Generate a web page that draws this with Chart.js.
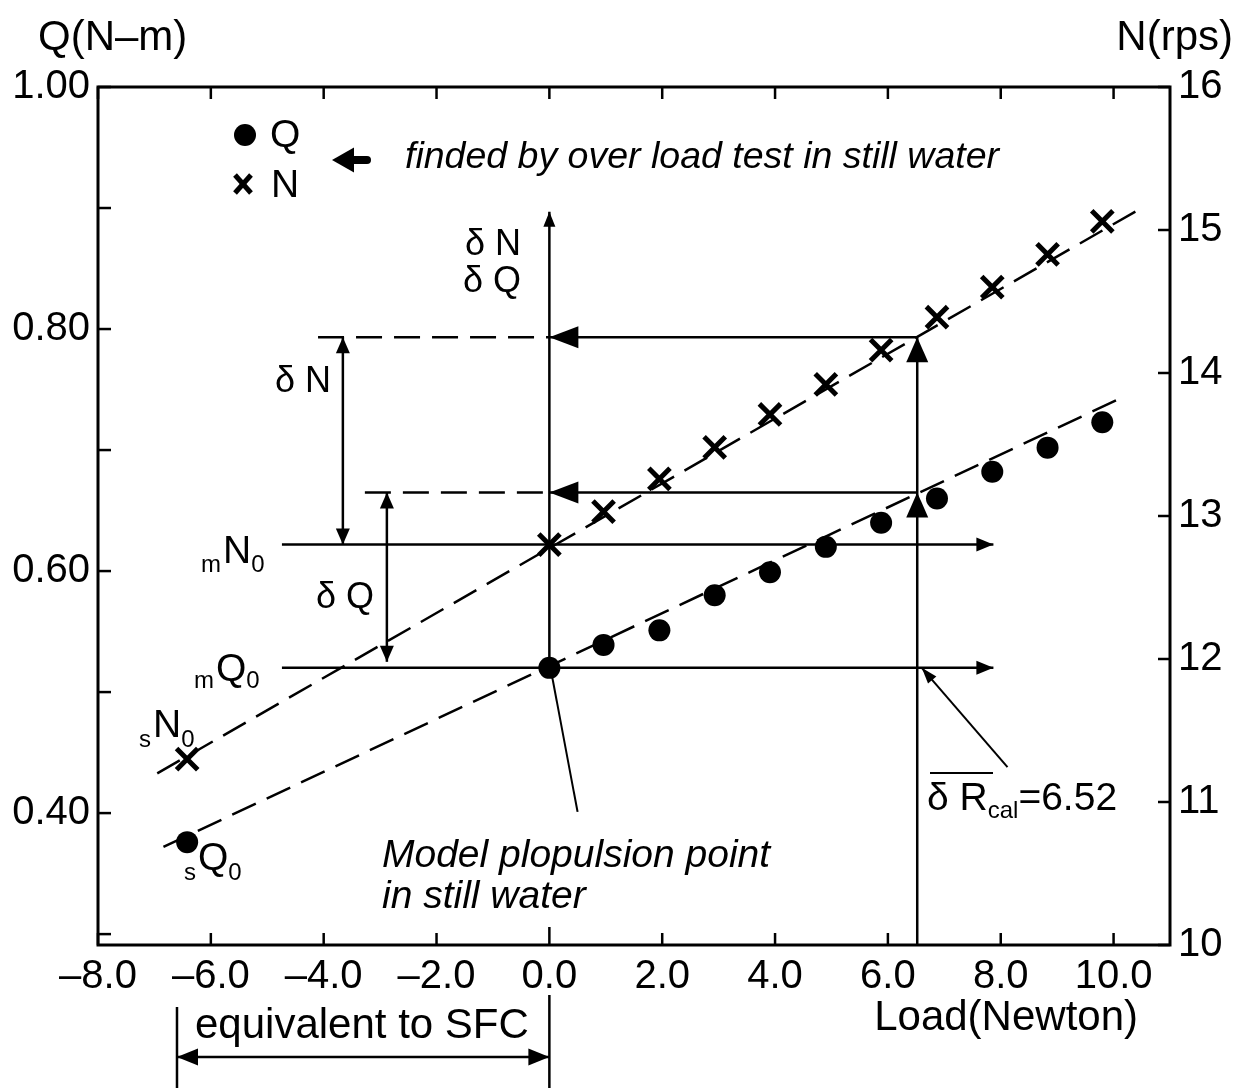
<!DOCTYPE html>
<html>
<head>
<meta charset="utf-8">
<script src="https://cdn.jsdelivr.net/npm/chart.js@4.4.0/dist/chart.umd.min.js"></script>
<style>
  html, body { margin: 0; padding: 0; background: #fff; }
  #wrap { width: 1237px; height: 1088px; position: relative; }
</style>
</head>
<body>
<div id="wrap"><canvas id="chart"></canvas></div>
<script>
'use strict';

// over load test in still water
var loads = [0, 0.96, 1.95, 2.93, 3.91, 4.9, 5.88, 6.87, 7.85, 8.83, 9.8];
var torqueQ = [0.52, 0.539, 0.551, 0.58, 0.599, 0.62, 0.64, 0.66, 0.682, 0.702, 0.723];
var revsN = [12.8, 13.03, 13.26, 13.48, 13.71, 13.92, 14.16, 14.39, 14.6, 14.83, 15.06];

// ship point sQ0 / sN0
var shipLoad = [-6.42];
var shipQ = [0.376];
var shipN = [11.3];

// dashed fit lines (end points only)
var fitLoadQ = [-6.84, 10.18];
var fitQ = [0.372, 0.744];
var fitLoadN = [-6.95, 10.48];
var fitN = [11.2, 15.15];

var xTicks = [-8, -6, -4, -2, 0, 2, 4, 6, 8, 10];
var qTicks = [0.3, 0.4, 0.5, 0.6, 0.7, 0.8, 0.9, 1.0];
var qLabelled = [0.4, 0.6, 0.8, 1.0];
var nTicks = [10, 11, 12, 13, 14, 15, 16];

// construction values
var dRcal = 6.52;
var sfcLoad = -6.6;
var mQ0 = 0.52, mN0 = 12.8;
var qAtLoad = 0.665, nAtLoad = 14.25;

var FAM = '"Liberation Sans", Arial, sans-serif';
var BIG = '39px ' + FAM;
var TITLE = '42px ' + FAM;
var MID = '36px ' + FAM;
var SMALL = '24px ' + FAM;

function pts(xs, ys) {
    return xs.map(function (x, i) { return {x: x, y: ys[i]}; });
}

function line(ctx, x1, y1, x2, y2, dash) {
    ctx.setLineDash(dash || []);
    ctx.beginPath();
    ctx.moveTo(x1, y1);
    ctx.lineTo(x2, y2);
    ctx.stroke();
    ctx.setLineDash([]);
}

// filled head with tip at (x2, y2)
function head(ctx, x1, y1, x2, y2, len, w) {
    var a = Math.atan2(y2 - y1, x2 - x1);
    var bx = x2 - len * Math.cos(a), by = y2 - len * Math.sin(a);
    ctx.beginPath();
    ctx.moveTo(x2, y2);
    ctx.lineTo(bx + w / 2 * Math.sin(a), by - w / 2 * Math.cos(a));
    ctx.lineTo(bx - w / 2 * Math.sin(a), by + w / 2 * Math.cos(a));
    ctx.closePath();
    ctx.fill();
}

function arrow(ctx, x1, y1, x2, y2, len, w, both) {
    line(ctx, x1, y1, x2, y2);
    head(ctx, x1, y1, x2, y2, len, w);
    if (both) { head(ctx, x2, y2, x1, y1, len, w); }
}

// pre-subscript, letter, post-subscript
function sublabel(ctx, x, y, pre, main, post, drop) {
    ctx.textAlign = 'left';
    ctx.font = SMALL;
    ctx.fillText(pre, x, y + drop);
    x += ctx.measureText(pre).width + 2;
    ctx.font = BIG;
    ctx.fillText(main, x, y);
    x += ctx.measureText(main).width;
    ctx.font = SMALL;
    ctx.fillText(post, x, y + drop);
}

function fmtLoad(v) {
    return (v < 0 ? '\u2013' : '') + Math.abs(v).toFixed(1);
}

var overlay = {
    id: 'overlay',
    afterDatasetsDraw: function (chart) {
        var ctx = chart.ctx, a = chart.chartArea;
        var sx = chart.scales.x, sq = chart.scales.yQ, sn = chart.scales.yN;
        var X = function (v) { return sx.getPixelForValue(v); };
        var Q = function (v) { return sq.getPixelForValue(v); };
        var N = function (v) { return sn.getPixelForValue(v); };

        ctx.save();
        ctx.strokeStyle = '#000';
        ctx.fillStyle = '#000';
        ctx.textBaseline = 'alphabetic';

        // frame and inward ticks
        ctx.lineWidth = 3;
        ctx.strokeRect(a.left, a.top, a.right - a.left, a.bottom - a.top);
        ctx.lineWidth = 2.5;
        xTicks.forEach(function (v) {
            line(ctx, X(v), a.bottom, X(v), a.bottom - (v === 0 ? 18 : 12));
            line(ctx, X(v), a.top, X(v), a.top + 12);
        });
        qTicks.forEach(function (v) { line(ctx, a.left, Q(v), a.left + 13, Q(v)); });
        nTicks.forEach(function (v) { line(ctx, a.right, N(v), a.right - 12, N(v)); });

        // vertical at zero load
        arrow(ctx, X(0), Q(mQ0), X(0), Q(0.897), 15, 12);

        // vertical at dRcal
        line(ctx, X(dRcal), a.bottom, X(dRcal), N(nAtLoad));
        head(ctx, X(dRcal), Q(qAtLoad) + 40, X(dRcal), Q(qAtLoad), 25, 22);
        head(ctx, X(dRcal), N(nAtLoad) + 40, X(dRcal), N(nAtLoad), 25, 22);

        // read-across to zero load
        arrow(ctx, X(dRcal), N(nAtLoad), X(0), N(nAtLoad), 29, 22);
        arrow(ctx, X(dRcal), Q(qAtLoad), X(0), Q(qAtLoad), 29, 22);
        line(ctx, X(-4.1), N(nAtLoad), X(0), N(nAtLoad), [26, 12]);
        line(ctx, X(-3.27), Q(qAtLoad), X(0), Q(qAtLoad), [26, 12]);

        // mN0 and mQ0 levels
        arrow(ctx, X(-4.74), N(mN0), X(7.87), N(mN0), 17, 14);
        arrow(ctx, X(-4.74), Q(mQ0), X(7.87), Q(mQ0), 17, 14);

        // dN and dQ spans
        arrow(ctx, X(-3.66), N(mN0), X(-3.66), N(nAtLoad), 16, 14, true);
        arrow(ctx, X(-2.88), Q(0.525), X(-2.88), Q(qAtLoad), 16, 14, true);

        // pointers
        ctx.lineWidth = 2;
        arrow(ctx, X(8.12), Q(0.438), X(6.6), Q(mQ0), 16, 11);
        line(ctx, X(0.5), Q(0.401), X(0.04), Q(0.515));

        // SFC span under the axis
        ctx.lineWidth = 2.5;
        line(ctx, X(sfcLoad), a.bottom + 62, X(sfcLoad), a.bottom + 143);
        line(ctx, X(0), a.bottom + 50, X(0), a.bottom + 143);
        arrow(ctx, X(sfcLoad), a.bottom + 112, X(0), a.bottom + 112, 21, 17, true);

        // axis titles
        ctx.font = TITLE;
        ctx.textAlign = 'left';
        ctx.fillText('Q(N\u2013m)', 38, 50);
        ctx.textAlign = 'right';
        ctx.fillText('N(rps)', 1233, 50);
        ctx.fillText('Load(Newton)', 1138, 1030);
        ctx.textAlign = 'left';
        ctx.fillText('equivalent to SFC', 195, 1038);

        // legend
        ctx.beginPath();
        ctx.arc(245, 135, 11, 0, Math.PI * 2);
        ctx.fill();
        ctx.lineWidth = 5;
        line(ctx, 235, 175, 251, 193);
        line(ctx, 251, 175, 235, 193);
        ctx.font = BIG;
        ctx.fillText('Q', 270, 147);
        ctx.fillText('N', 271, 197);
        ctx.lineWidth = 8;
        ctx.lineCap = 'round';
        line(ctx, 350, 160, 367, 160);
        ctx.lineCap = 'butt';
        head(ctx, 360, 160, 332, 160, 22, 25);
        ctx.font = 'italic 37.5px ' + FAM;
        ctx.fillText('finded by over load test in still water', 405, 168);

        // labels
        ctx.font = MID;
        ctx.textAlign = 'right';
        ctx.fillText('\u03b4 N', 521, 255);
        ctx.fillText('\u03b4 Q', 521, 292);
        ctx.fillText('\u03b4 N', 331, 392);
        ctx.fillText('\u03b4 Q', 374, 608);

        sublabel(ctx, 201, 563, 'm', 'N', '0', 9);
        sublabel(ctx, 194, 681, 'm', 'Q', '0', 7);
        sublabel(ctx, 139, 737, 's', 'N', '0', 10);
        sublabel(ctx, 184, 870, 's', 'Q', '0', 10);

        // dR_cal label
        ctx.textAlign = 'left';
        ctx.font = BIG;
        ctx.fillText('\u03b4 R', 927, 810);
        var w = ctx.measureText('\u03b4 R').width;
        ctx.font = SMALL;
        ctx.fillText('cal', 927 + w, 818);
        var w2 = ctx.measureText('cal').width;
        ctx.font = BIG;
        ctx.fillText('=6.52', 927 + w + w2, 810);
        ctx.lineWidth = 2;
        line(ctx, 930, 773, 993, 773);

        ctx.font = 'italic 39px ' + FAM;
        ctx.fillText('Model plopulsion point', 382, 867);
        ctx.fillText('in still water', 382, 908);

        ctx.restore();
    }
};

var tickFont = {family: FAM, size: 40};

var chart = new Chart(document.getElementById('chart'), {
    type: 'scatter',
    data: {
        datasets: [
            {
                label: 'Q',
                data: pts(loads, torqueQ).concat(pts(shipLoad, shipQ)),
                yAxisID: 'yQ',
                pointStyle: 'circle',
                pointRadius: 11,
                backgroundColor: '#000',
                borderWidth: 0
            },
            {
                label: 'N',
                data: pts(loads, revsN).concat(pts(shipLoad, shipN)),
                yAxisID: 'yN',
                pointStyle: 'crossRot',
                pointRadius: 15,
                borderColor: '#000',
                borderWidth: 5
            },
            {
                label: 'Q fit',
                data: pts(fitLoadQ, fitQ),
                yAxisID: 'yQ',
                showLine: true,
                borderColor: '#000',
                borderWidth: 2.5,
                borderDash: [26, 12],
                pointRadius: 0
            },
            {
                label: 'N fit',
                data: pts(fitLoadN, fitN),
                yAxisID: 'yN',
                showLine: true,
                borderColor: '#000',
                borderWidth: 2.5,
                borderDash: [26, 12],
                pointRadius: 0
            }
        ]
    },
    options: {
        responsive: true,
        maintainAspectRatio: false,
        animation: false,
        layout: {padding: {top: 87, left: 0, right: 0, bottom: 0}},
        plugins: {legend: {display: false}, tooltip: {enabled: false}},
        scales: {
            x: {
                type: 'linear',
                min: -8,
                max: 11,
                afterBuildTicks: function (s) { s.ticks = xTicks.map(function (v) { return {value: v}; }); },
                afterFit: function (s) { s.height = 143; },
                grid: {display: false, drawTicks: false},
                border: {display: false},
                ticks: {
                    color: '#000', font: tickFont, padding: 8, autoSkip: false, maxRotation: 0,
                    callback: function (v) { return fmtLoad(v); }
                }
            },
            yQ: {
                type: 'linear',
                position: 'left',
                min: 0.291,
                max: 1.0,
                afterBuildTicks: function (s) { s.ticks = qTicks.map(function (v) { return {value: v}; }); },
                afterFit: function (s) { s.width = 98; },
                grid: {display: false, drawTicks: false},
                border: {display: false},
                ticks: {
                    color: '#000', font: tickFont, padding: 8, autoSkip: false,
                    callback: function (v) {
                        var hit = qLabelled.some(function (q) { return Math.abs(q - v) < 1e-6; });
                        return hit ? v.toFixed(2) : '';
                    }
                }
            },
            yN: {
                type: 'linear',
                position: 'right',
                min: 10,
                max: 16,
                afterBuildTicks: function (s) { s.ticks = nTicks.map(function (v) { return {value: v}; }); },
                afterFit: function (s) { s.width = 67; },
                grid: {display: false, drawTicks: false},
                border: {display: false},
                ticks: {
                    color: '#000', font: tickFont, padding: 8, autoSkip: false,
                    callback: function (v) { return String(v); }
                }
            }
        }
    },
    plugins: [overlay]
});
</script>
</body>
</html>
